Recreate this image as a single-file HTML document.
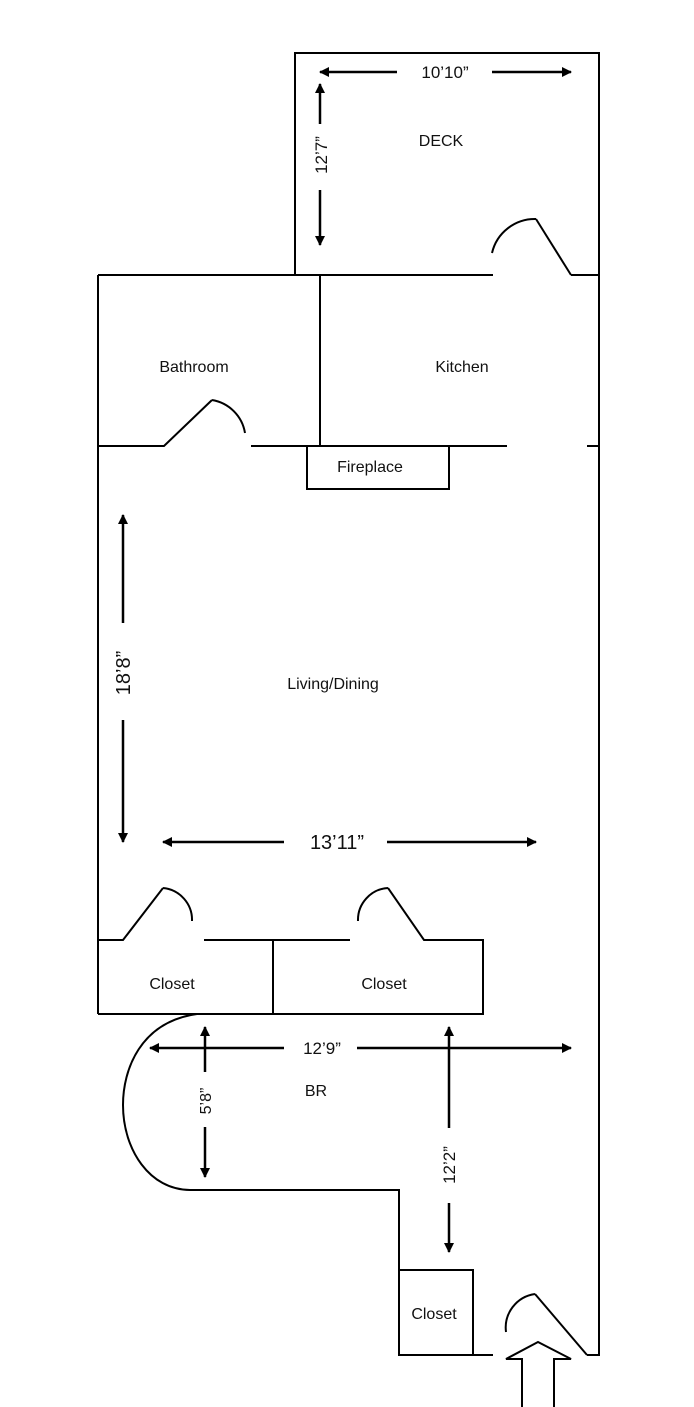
<!DOCTYPE html>
<html><head><meta charset="utf-8"><style>
html,body{margin:0;padding:0;background:#fff;}
svg{display:block;}
text{font-family:"Liberation Sans",sans-serif;fill:#111;}
</style></head><body>
<svg width="694" height="1407" viewBox="0 0 694 1407" xmlns="http://www.w3.org/2000/svg">
<defs>
<marker id="ah" markerWidth="10" markerHeight="10" refX="9" refY="5" orient="auto" markerUnits="userSpaceOnUse">
<path d="M0,0 L10,5 L0,10 z" fill="#000"/>
</marker>
</defs>
<g stroke="#000" stroke-width="2" fill="none">
<!-- deck -->
<polyline points="295,275 295,53 599,53 599,1355 587,1355"/>
<line x1="98" y1="275" x2="493" y2="275"/>
<line x1="571" y1="275" x2="599" y2="275"/>
<polyline points="571,275 536,219"/>
<path d="M536,219 A44,44 0 0 0 492,253"/>
<!-- left wall -->
<line x1="98" y1="275" x2="98" y2="1014"/>
<line x1="320" y1="275" x2="320" y2="446"/>
<!-- bath/kitchen wall -->
<polyline points="98,446 164,446 212,400"/>
<path d="M212,400 A40,40 0 0 1 245,433"/>
<line x1="251" y1="446" x2="507" y2="446"/>
<line x1="587" y1="446" x2="599" y2="446"/>
<rect x="307" y="446" width="142" height="43"/>
<!-- closets -->
<polyline points="98,940 123,940 163,888"/>
<path d="M163,888 A32,32 0 0 1 192,921"/>
<line x1="204" y1="940" x2="350" y2="940"/>
<path d="M358,921 A32,32 0 0 1 388,888"/>
<polyline points="388,888 424,940 483,940 483,1014 98,1014"/>
<line x1="273" y1="940" x2="273" y2="1014"/>
<!-- BR curve -->
<path d="M197,1014 C140,1022 123,1070 123,1105 C123,1150 150,1190 190,1190 L399,1190 L399,1355 L493,1355"/>
<rect x="399" y="1270" width="74" height="85"/>
<path d="M506,1332 A34,34 0 0 1 535,1294"/>
<line x1="535" y1="1294" x2="587" y2="1355"/>
<!-- entry arrow -->
<polyline points="522,1407 522,1359 506,1359 538,1342 571,1359 554,1359 554,1407"/>
</g>
<g stroke="#000" stroke-width="2.5" fill="none" marker-end="url(#ah)">
<line x1="397" y1="72" x2="320" y2="72"/>
<line x1="492" y1="72" x2="571" y2="72"/>
<line x1="320" y1="124" x2="320" y2="84"/>
<line x1="320" y1="190" x2="320" y2="245"/>
<line x1="123" y1="623" x2="123" y2="515"/>
<line x1="123" y1="720" x2="123" y2="842"/>
<line x1="284" y1="842" x2="163" y2="842"/>
<line x1="387" y1="842" x2="536" y2="842"/>
<line x1="284" y1="1048" x2="150" y2="1048"/>
<line x1="357" y1="1048" x2="571" y2="1048"/>
<line x1="205" y1="1072" x2="205" y2="1027"/>
<line x1="205" y1="1127" x2="205" y2="1177"/>
<line x1="449" y1="1128" x2="449" y2="1027"/>
<line x1="449" y1="1203" x2="449" y2="1252"/>
</g>
<g font-size="16" text-anchor="middle">
<text x="441" y="146">DECK</text>
<text x="194" y="372">Bathroom</text>
<text x="462" y="372">Kitchen</text>
<text x="370" y="472">Fireplace</text>
<text x="333" y="689">Living/Dining</text>
<text x="172" y="989">Closet</text>
<text x="384" y="989">Closet</text>
<text x="434" y="1319">Closet</text>
<text x="316" y="1096">BR</text>
<text x="445" y="78" font-size="17">10’10”</text>
<text x="337" y="849" font-size="20">13’11”</text>
<text x="322" y="1054" font-size="17">12’9”</text>
<text transform="translate(327,155) rotate(-90)" font-size="17">12’7”</text>
<text transform="translate(130,673) rotate(-90)" font-size="20">18’8”</text>
<text transform="translate(211,1101) rotate(-90)" font-size="16">5’8”</text>
<text transform="translate(455,1165) rotate(-90)" font-size="17">12’2”</text>
</g>
</svg>
</body></html>
